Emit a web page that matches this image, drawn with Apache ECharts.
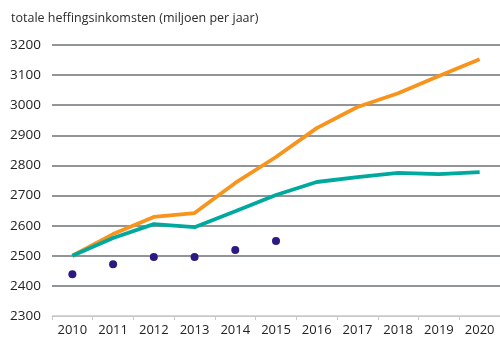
<!DOCTYPE html>
<html>
<head>
<meta charset="utf-8">
<script src="https://cdn.jsdelivr.net/npm/echarts@6/dist/echarts.min.js"></script>
<style>
  html, body { margin: 0; padding: 0; background: #fff; }
  #chart { width: 500px; height: 339px; }
</style>
</head>
<body>
<div id="chart"></div>
<script>
// Years on the horizontal axis
const years = ['2010', '2011', '2012', '2013', '2014', '2015', '2016', '2017', '2018', '2019', '2020'];

// Projected revenue, upper scenario (orange)
const scenarioHigh = [2500, 2572, 2629, 2642, 2742, 2828, 2924, 2994, 3040, 3097, 3153];

// Projected revenue, lower scenario (teal)
const scenarioLow = [2500, 2559, 2605, 2595, 2648, 2702, 2745, 2761, 2775, 2771, 2778];

// Realised revenue (dots), 2010-2015
const realised = [2439, 2472, 2496, 2496, 2519, 2549, null, null, null, null, null];

const FONT = '"Open Sans", "Noto Sans", sans-serif';

const chart = echarts.init(document.getElementById('chart'), null, { renderer: 'canvas' });

// The bottom line (2300) is the light axis line; the others are darker grid lines.
const gridColors = ['#c8c8c8', '#6e7276', '#6e7276', '#6e7276', '#6e7276', '#6e7276',
                    '#6e7276', '#6e7276', '#6e7276', '#6e7276'];

chart.setOption({
  animation: false,
  backgroundColor: '#ffffff',
  title: {
    text: 'totale heffingsinkomsten (miljoen per jaar)',
    left: 6,
    top: 7,
    textStyle: { fontFamily: FONT, fontSize: 12.5, fontWeight: 'normal', color: '#2b2b2b' }
  },
  grid: { left: 52, right: 0, top: 45, bottom: 23, containLabel: false },
  xAxis: {
    type: 'category',
    data: years,
    boundaryGap: true,
    axisLine: { show: true, lineStyle: { color: '#c8c8c8', width: 1 } },
    axisTick: { show: true, alignWithLabel: false, length: 4, lineStyle: { color: '#c8c8c8' } },
    axisLabel: { fontFamily: FONT, fontSize: 13, color: '#222', margin: 8 },
    splitLine: { show: false }
  },
  yAxis: {
    type: 'value',
    min: 2300,
    max: 3200,
    interval: 100,
    axisLine: { show: false },
    axisTick: { show: false },
    axisLabel: {
      fontFamily: FONT, fontSize: 13.5, color: '#222', margin: 11,
      formatter: (v) => String(v)
    },
    splitLine: { show: true, lineStyle: { color: gridColors, width: 1.5 } }
  },
  series: [
    {
      name: 'hoog',
      type: 'line',
      data: scenarioHigh,
      symbol: 'none',
      lineStyle: { color: '#f7941d', width: 3.8 },
      z: 3
    },
    {
      name: 'laag',
      type: 'line',
      data: scenarioLow,
      symbol: 'none',
      lineStyle: { color: '#00a99d', width: 3.8 },
      z: 4
    },
    {
      name: 'gerealiseerd',
      type: 'scatter',
      data: realised,
      symbol: 'circle',
      symbolSize: 8,
      itemStyle: { color: '#2b1a82', opacity: 1 },
      z: 5
    }
  ]
});
</script>
</body>
</html>
